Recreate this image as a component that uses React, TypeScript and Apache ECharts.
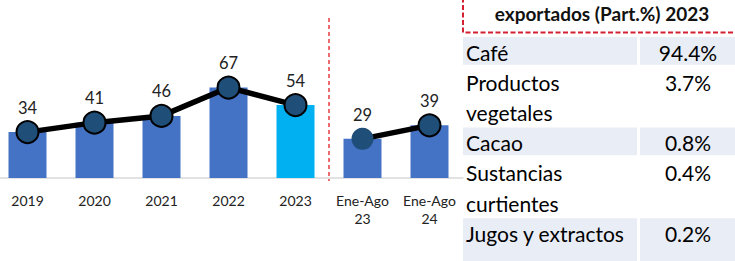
import React, { useEffect, useRef } from "react";
import * as echarts from "echarts";

const categories = ["2019", "2020", "2021", "2022", "2023", "Ene-Ago\n23", "Ene-Ago\n24"];
const barValues = [34, 41, 46, 67, 54, 29, 39];
const annualLine = [34, 41, 46, 67, 54, "-", "-"];
const partialLine = ["-", "-", "-", "-", "-", 29, 39];
const tableTitle = "exportados (Part.%) 2023";
const products = [["Café"], ["Productos", "vegetales"], ["Cacao"], ["Sustancias", "curtientes"], ["Jugos y extractos", ""]];
const shares = ["94.4%", "3.7%", "0.8%", "0.4%", "0.2%"];

const FONT = "Lato";
const OX = 6; // chart div is shifted left by OX pixels

export default function App() {
  const ref = useRef<HTMLDivElement>(null);
  useEffect(() => {
    if (!ref.current) return;
    const chart = echarts.init(ref.current, null, { renderer: "svg" });

    const graphics: any[] = [];
    graphics.push({
      type: "line",
      shape: { x1: 329 + OX, y1: 18, x2: 329 + OX, y2: 181 },
      style: { stroke: "#E02020", lineWidth: 1.3, lineDash: [4, 3] },
      silent: true,
    });
    graphics.push({
      type: "rect",
      shape: { x: 463 + OX, y: -10, width: 290, height: 42.5 },
      style: { fill: "none", stroke: "#D42030", lineWidth: 2, lineDash: [5, 2.5] },
    });
    graphics.push({
      type: "text",
      x: 602 + OX,
      y: 13,
      style: {
        text: tableTitle,
        font: `bold 19px ${FONT}`,
        fill: "#111",
        align: "center",
        verticalAlign: "middle",
      },
    });
    const lineH = 30.2;
    let top = 37;
    products.forEach((lines, i) => {
      const h = lines.length * lineH;
      if (i % 2 === 0) {
        graphics.push({
          type: "rect",
          shape: { x: 463 + OX, y: top, width: 174, height: h - 2.5 },
          style: { fill: "#E9EDF5" },
        });
        graphics.push({
          type: "rect",
          shape: { x: 640 + OX, y: top, width: 100, height: h - 2.5 },
          style: { fill: "#E9EDF5" },
        });
      }
      lines.forEach((ln, j) => {
        if (!ln) return;
        graphics.push({
          type: "text",
          x: 466 + OX,
          y: top + 15 + j * lineH,
          style: {
            text: ln,
            font: `21px ${FONT}`,
            fill: "#000",
            align: "left",
            verticalAlign: "middle",
          },
        });
      });
      graphics.push({
        type: "text",
        x: 688 + OX,
        y: top + 15,
        style: {
          text: shares[i],
          font: `21px ${FONT}`,
          fill: "#000",
          align: "center",
          verticalAlign: "middle",
        },
      });
      top += h;
    });

    const lineCommon = {
      type: "line",
      symbol: "circle",
      symbolSize: 22,
      lineStyle: { color: "#000", width: 5.5 },
      itemStyle: { color: "#1F4E79", borderColor: "#000", borderWidth: 2 },
      label: {
        show: true,
        position: "top",
        distance: 4,
        fontFamily: FONT,
        fontSize: 16.5,
        color: "#222",
      },
      z: 3,
    };

    chart.setOption({
      animation: false,
      grid: { left: 0, width: 469, top: 43, height: 135 },
      xAxis: {
        type: "category",
        data: categories,
        axisLine: { lineStyle: { color: "#D9D9D9", width: 1.5 } },
        axisTick: { show: false },
        axisLabel: { fontFamily: FONT, fontSize: 14, lineHeight: 18, color: "#222", margin: 13, interval: 0 },
      },
      yAxis: { type: "value", min: 0, max: 100, show: false, splitLine: { show: false } },
      series: [
        {
          type: "bar",
          data: barValues.map((v, i) => ({
            value: v,
            itemStyle: { color: i === 4 ? "#00B0F0" : "#4472C4" },
          })),
          barWidth: 38,
          z: 2,
        },
        { ...lineCommon, data: annualLine },
        {
          ...lineCommon,
          data: partialLine.map((v, i) =>
            i === 5 ? { value: v, symbolSize: 22, itemStyle: { borderWidth: 0 } } : v
          ),
        },
      ],
      graphic: graphics,
    });
    return () => chart.dispose();
  }, []);
  return (
    <div
      ref={ref}
      style={{ position: "fixed", left: -OX, top: 0, width: 735 + OX, height: 261, background: "#fff" }}
    />
  );
}
